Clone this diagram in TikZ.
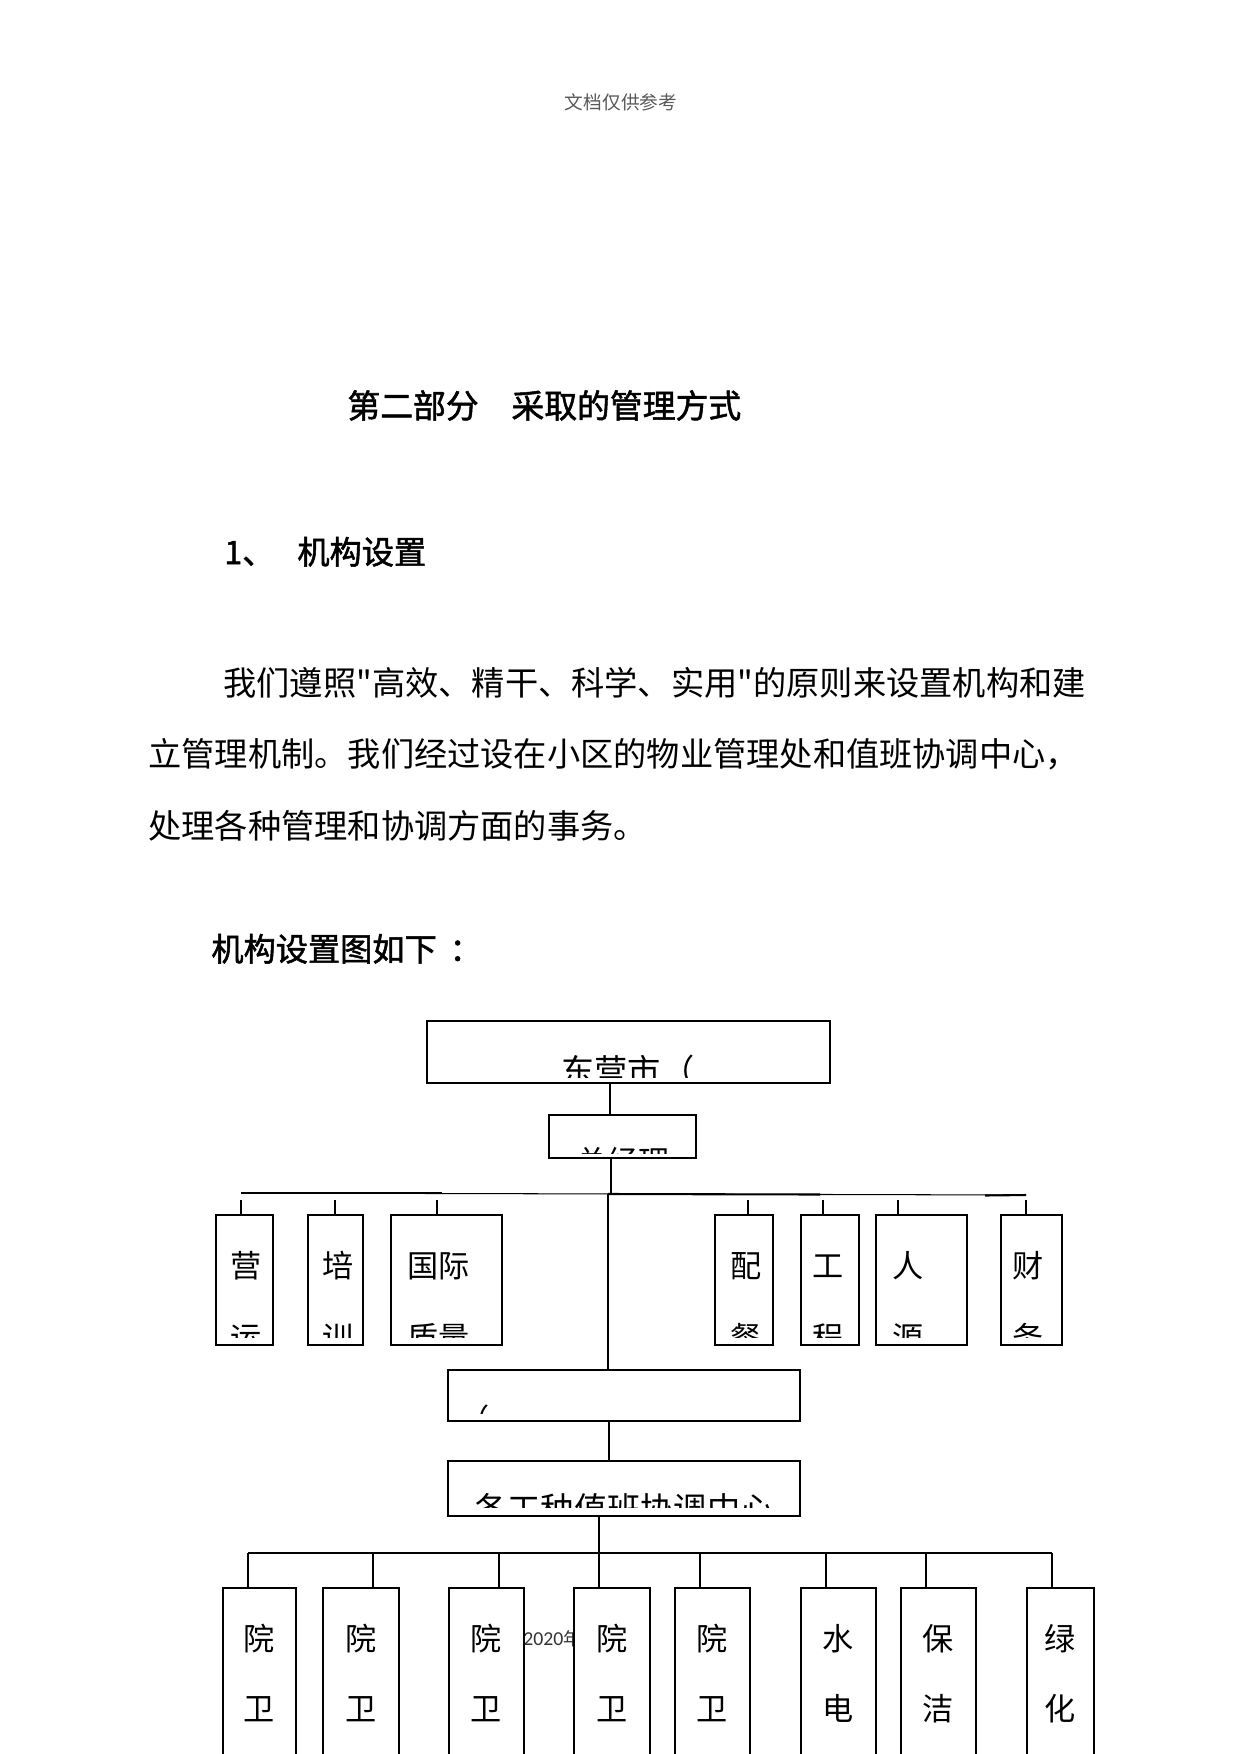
\documentclass[tikz,border=0pt]{standalone}
\usepackage{fontspec}
\setmainfont{Noto Sans CJK SC}
\newfontfamily\bodyfont{Noto Sans CJK SC}
\newfontfamily\headfont{Noto Sans CJK SC}[FakeBold=1.6]
\newfontfamily\footfont{Carlito}
\definecolor{hdr}{HTML}{595959}
\definecolor{foot}{HTML}{333333}
\newcommand{\pxu}{0.016922cm}
\tikzset{
  orgbox/.style={draw, line width=1pt, fill=white, inner sep=0pt, outer sep=0pt, anchor=north west},
  boxtext/.style={font=\fontsize{15pt}{15pt}\selectfont, inner sep=0pt},
  bigtext/.style={font=\fontsize{16pt}{16pt}\selectfont, inner sep=0pt},
  headtext/.style={font=\fontsize{15.5pt}{15.5pt}\headfont, inner sep=0pt, anchor=base west},
  bodytext/.style={font=\fontsize{16pt}{16pt}\bodyfont, inner sep=0pt, anchor=base west},
  linkthin/.style={line width=0.5pt},
  linkthick/.style={line width=1pt}}
% department box of the first row: name, x1, x2, text x, anchor, line 1, line 2, tick x
\newcommand{\dept}[8]{%
  \node[orgbox, minimum width={(#3-#2)*\pxu}, minimum height={130*\pxu}] (#1) at (#2,1215) {};
  \node[boxtext, anchor=#5] (#1-a) at (#4,1277) {#6};
  \begin{scope}
    \clip (#2,1300) rectangle (#3,1337);
    \node[boxtext, anchor=#5] (#1-b) at (#4,1349) {#7};
  \end{scope}
  \coordinate (#1-t) at (#8,1200);}

\begin{document}
\begin{tikzpicture}[x=0.016922cm, y=-0.016922cm]
  \useasboundingbox (0,0) rectangle (1241,1754);
  \clip (0,0) rectangle (1241,1754);
  % page text
  \node[font=\fontsize{9pt}{9pt}\selectfont, text=hdr, inner sep=0pt, anchor=base] (hdr) at (621,110) {文档仅供参考};
  \node[headtext, font=\fontsize{15.8pt}{15.8pt}\headfont] (title) at (347,418) {第二部分\hspace{1em}采取的管理方式};
  \node[headtext] (sec) at (224,564) {1、};
  \node[headtext] (sectitle) at (297,564) {机构设置};
  \node[bodytext] (p1) at (223,695) {我们遵照"高效、精干、科学、实用"的原则来设置机构和建};
  \node[bodytext] (p2) at (148,766) {立管理机制。我们经过设在小区的物业管理处和值班协调中心，};
  \node[bodytext] (p3) at (148,838) {处理各种管理和协调方面的事务。};
  \node[headtext] (figtitle) at (211,961) {机构设置图如下\hspace{0.4em}：};
  \node[font=\fontsize{9.5pt}{9.5pt}\selectfont, text=foot, inner sep=0pt, anchor=base west] (foot) at (523,1645) {\footfont 2020\rmfamily\fontsize{8.5pt}{8.5pt}\selectfont 年};

  % top of the chart
  \node[orgbox, minimum width={403*\pxu}, minimum height={62*\pxu}] (zsb) at (427,1021) {};
  \begin{scope}
    \clip (430,1030) rectangle (826,1077);
    \node[bigtext, anchor=base west] (zsb-a) at (561,1083) {东营市（};
  \end{scope}
  \node[orgbox, minimum width={147*\pxu}, minimum height={43*\pxu}] (zjl) at (549,1115) {};
  \begin{scope}
    \clip (552,1125) rectangle (693,1153);
    \node[boxtext, anchor=base] (zjl-a) at (623,1173) {总经理};
  \end{scope}
  \coordinate (j0) at (610,1100);
  \draw[linkthin] (j0 |- zsb.south) -- (j0 |- zjl.north);
  \coordinate (j1) at (611,1193);
  \draw[linkthick] (j1 |- zjl.south) -- (j1);

  % first row of departments
  \dept{yy}{216}{273}{246.5}{base}{营}{运}{241}
  \dept{px}{308}{363}{338}{base}{培}{训}{335}
  \dept{gj}{391}{502}{407}{base west}{国际}{质量}{437}
  \dept{pc}{715}{773}{746}{base}{配}{餐}{748}
  \dept{gc}{801}{859}{828.5}{base}{工}{程}{823}
  \dept{rl}{876}{967}{892}{base west}{人}{源}{898}
  \dept{cw}{1001}{1062}{1028}{base}{财}{务}{1026}
  \coordinate (b1l) at (241,1193);
  \coordinate (b1m) at (608,1194);
  \coordinate (b1r) at (1026,1195);
  \draw[linkthin] (b1l) -- (b1r);
  \draw[linkthick] (b1l) -- (442,1193);
  \draw[linkthick] (b1m) -- (820,1194.5);
  \draw[linkthick] (985,1195.5) -- (b1r);
  \draw[linkthin] (yy-t) -- (yy-t |- yy.north);
  \draw[linkthick] (px-t) -- (px-t |- px.north);
  \draw[linkthin] (gj-t) -- (gj-t |- gj.north);
  \draw[linkthick] (pc-t) -- (pc-t |- pc.north);
  \draw[linkthick] (gc-t) -- (gc-t |- gc.north);
  \draw[linkthick] (rl-t) -- (rl-t |- rl.north);
  \draw[linkthin] (cw-t) -- (cw-t |- cw.north);

  % middle boxes
  \node[orgbox, minimum width={352*\pxu}, minimum height={51*\pxu}] (fgb) at (448,1370) {};
  \begin{scope}
    \clip (451,1380) rectangle (797,1413);
    \node[boxtext, anchor=base west] (fgb-a) at (458,1431) {（};
  \end{scope}
  \node[orgbox, minimum width={352*\pxu}, minimum height={55*\pxu}] (xtz) at (448,1461) {};
  \begin{scope}
    \clip (451,1470) rectangle (797,1507);
    \node[bigtext, anchor=base west] (xtz-a) at (474,1521) {各工种值班协调中心};
  \end{scope}
  \draw[linkthin] (b1m) -- (b1m |- fgb.north);
  \draw[linkthick] (608,1366) -- (b1m |- fgb.north);
  \coordinate (j2) at (609,1440);
  \draw[linkthin] (j2 |- fgb.south) -- (j2 |- xtz.north);

  % bottom row of posts
  \foreach \n/\xa/\xb/\tx/\tw/\ta/\tb in {w1/223/296/248/linkthick/院/卫, w2/323/399/373/linkthin/院/卫,
      w3/449/524/499/linkthick/院/卫, w4/574/650/599/linkthin/院/卫, w5/675/750/700/linkthick/院/卫,
      w6/801/876/826/linkthin/水/电, w7/901/976/926/linkthick/保/洁, w8/1027/1094/1052/linkthin/绿/化}{
    \node[orgbox, minimum width={(\xb-\xa)*\pxu}, minimum height={220*\pxu}] (\n) at (\xa,1588) {};
    \node[boxtext, anchor=base] (\n-a) at ({(\xa+\xb)/2},1650) {\ta};
    \node[boxtext, anchor=base] (\n-b) at ({(\xa+\xb)/2},1720) {\tb};
    \coordinate (\n-t) at (\tx,1553);
    \draw[\tw] (\n-t) -- (\n-t |- \n.north);
  }
  \draw[linkthin] (w1-t) -- (w8-t);
  \draw[linkthin] (w4-t |- xtz.south) -- (w4-t);
\end{tikzpicture}
\end{document}
